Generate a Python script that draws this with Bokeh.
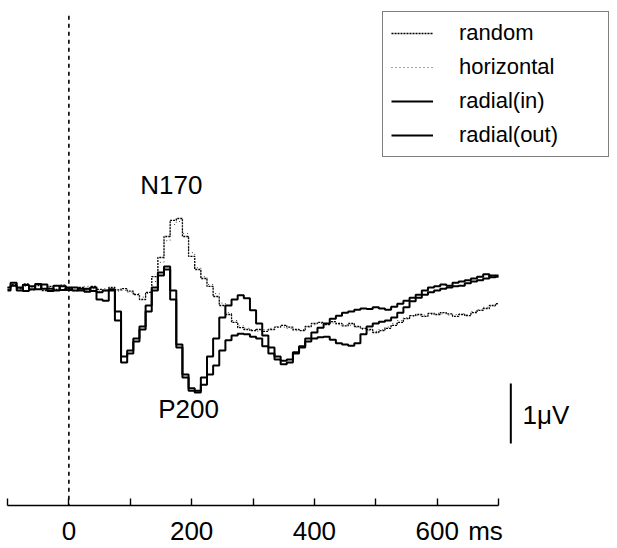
from bokeh.plotting import figure
from bokeh.models import Range1d, FixedTicker, Label, Legend, LegendItem, ColumnDataSource
from bokeh.embed import file_html
from bokeh.resources import INLINE

# ---- data (ms, µV; negative plotted upward) ----
time_ms = list(range(-100, 701, 10))

random_uv = [0.03, -0.05, 0.02, -0.06, 0.04, -0.03, 0.05, -0.02, 0.03, -0.04,
             0.02, 0.05, 0.0, 0.04, -0.02, 0.03, 0.05, 0.0, 0.04, 0.02,
             0.06, 0.12, 0.2, 0.08, -0.18, -0.5, -0.85, -1.12, -1.15, -0.85,
             -0.52, -0.3, -0.15, -0.02, 0.15, 0.3, 0.45, 0.58, 0.67, 0.7,
             0.72, 0.7, 0.73, 0.7, 0.66, 0.63, 0.66, 0.7, 0.72, 0.65,
             0.6, 0.58, 0.62, 0.57, 0.6, 0.64, 0.6, 0.65, 0.68, 0.7,
             0.75, 0.72, 0.68, 0.63, 0.58, 0.52, 0.47, 0.45, 0.48, 0.43,
             0.45, 0.42, 0.44, 0.48, 0.45, 0.47, 0.42, 0.38, 0.35, 0.3, 0.27]

horizontal_uv = [0.0, -0.03, 0.05, -0.02, 0.0, -0.06, 0.03, 0.0, -0.03, 0.02,
                 0.04, 0.0, 0.03, -0.02, 0.02, 0.06, 0.02, 0.04, 0.06, 0.05,
                 0.08, 0.1, 0.16, 0.1, -0.1, -0.42, -0.78, -1.05, -1.1, -0.9,
                 -0.58, -0.33, -0.18, -0.05, 0.1, 0.26, 0.42, 0.55, 0.64, 0.68,
                 0.7, 0.73, 0.7, 0.68, 0.65, 0.66, 0.68, 0.72, 0.7, 0.66,
                 0.62, 0.6, 0.6, 0.59, 0.62, 0.62, 0.63, 0.66, 0.7, 0.72,
                 0.73, 0.7, 0.66, 0.6, 0.55, 0.5, 0.48, 0.47, 0.46, 0.45,
                 0.43, 0.44, 0.46, 0.45, 0.44, 0.45, 0.4, 0.37, 0.33, 0.31, 0.28]

radial_in_uv = [0.0, -0.08, 0.05, -0.04, 0.03, -0.06, 0.02, 0.06, -0.03, 0.04,
                0.0, 0.05, 0.02, 0.07, 0.0, 0.2, 0.22, 0.05, 0.55, 1.25,
                1.05, 0.85, 0.65, 0.3, 0.0, -0.2, -0.3, 0.05, 0.95, 1.5,
                1.72, 1.75, 1.5, 1.15, 0.85, 0.5, 0.3, 0.2, 0.13, 0.18,
                0.38, 0.6, 0.8, 1.0, 1.15, 1.28, 1.25, 1.1, 1.0, 0.85,
                0.75, 0.67, 0.6, 0.52, 0.47, 0.42, 0.4, 0.37, 0.35, 0.36,
                0.33, 0.35, 0.37, 0.32, 0.27, 0.22, 0.17, 0.12, 0.05, 0.0,
                -0.02, -0.05, -0.03, -0.08, -0.1, -0.12, -0.15, -0.18, -0.22, -0.17, -0.2]

radial_out_uv = [0.05, -0.03, 0.0, 0.06, -0.02, 0.03, -0.05, 0.02, 0.05, -0.02,
                 0.04, 0.0, 0.05, 0.02, 0.06, 0.08, 0.05, 0.03, 0.4, 1.15,
                 1.1, 0.9, 0.7, 0.4, 0.05, -0.25, -0.35, 0.2, 1.0, 1.45,
                 1.68, 1.72, 1.62, 1.45, 1.3, 1.05, 0.88, 0.8, 0.77, 0.78,
                 0.82, 0.85, 0.98, 1.1, 1.2, 1.22, 1.2, 1.08, 0.98, 0.9,
                 0.85, 0.83, 0.82, 0.87, 0.93, 0.95, 0.97, 0.93, 0.78, 0.65,
                 0.6, 0.57, 0.55, 0.5, 0.42, 0.33, 0.23, 0.17, 0.12, 0.08,
                 0.05, 0.02, 0.0, -0.02, -0.03, -0.07, -0.1, -0.12, -0.15, -0.2, -0.18]

tick_values = [-100, 0, 100, 200, 300, 400, 500, 600, 700]
tick_labels = {-100: "", 0: "0", 100: "", 200: "200", 300: "", 400: "400",
               500: "", 600: "600", 700: "ms\u2003"}
stim_onset = 0
onset_top = -4.53
onset_bottom = 3.633
scale_bar_x = 720
scale_bar_top = 1.6
scale_bar_len = 1.0
scale_label = "1\u03bcV"
peak_labels = ["N170", "P200"]
peak_label_x = [167, 195]
peak_label_y = [-1.7, 2.02]

FONT = "Liberation Sans"

p = figure(width=617, height=548, min_border_left=0, min_border_right=0,
           min_border_top=0, min_border_bottom=43,
           x_range=Range1d(-111.4, 893.8), y_range=Range1d(3.633, -4.783),
           toolbar_location=None, output_backend="svg",
           y_axis_location=None, x_axis_location="below")
p.grid.visible = False
p.outline_line_color = None
p.background_fill_color = "white"
p.border_fill_color = "white"

ax = p.xaxis[0]
ax.ticker = FixedTicker(ticks=tick_values)
ax.bounds = (-100, 700)
ax.major_label_overrides = tick_labels
ax.major_tick_in = 7
ax.major_tick_out = 0
ax.minor_tick_line_color = None
ax.axis_line_width = 1.6
ax.major_tick_line_width = 1.4
ax.major_label_text_font = FONT
ax.major_label_text_font_size = "26px"
ax.major_label_text_color = "black"
ax.major_label_standoff = 10

p.segment(x0=[stim_onset], y0=[onset_top], x1=[stim_onset], y1=[onset_bottom],
          line_color="black", line_dash="4 4", line_width=1.6)

src = ColumnDataSource(dict(t=time_ms, rnd=random_uv, hor=horizontal_uv,
                            rin=radial_in_uv, rout=radial_out_uv))

r_rnd = p.step("t", "rnd", source=src, mode="center", line_color="black",
               line_width=1.3, line_dash="2 1")
r_hor = p.step("t", "hor", source=src, mode="center", line_color="#444444",
               line_width=1.0, line_dash="1 3")
r_in = p.step("t", "rin", source=src, mode="center", line_color="black", line_width=2)
r_out = p.step("t", "rout", source=src, mode="center", line_color="black", line_width=2)

legend = Legend(items=[LegendItem(label="random", renderers=[r_rnd]),
                       LegendItem(label="horizontal", renderers=[r_hor]),
                       LegendItem(label="radial(in)", renderers=[r_in]),
                       LegendItem(label="radial(out)", renderers=[r_out])],
                location=(382, 348))
legend.border_line_color = "black"
legend.border_line_width = 1.5
legend.background_fill_color = "white"
legend.background_fill_alpha = 1
legend.label_text_font = FONT
legend.label_text_font_size = "22px"
legend.label_text_color = "black"
legend.glyph_width = 42
legend.glyph_height = 26
legend.label_height = 26
legend.label_width = 141
legend.label_standoff = 26
legend.spacing = 8
legend.padding = 8
legend.margin = 0
p.add_layout(legend)

p.segment(x0=[scale_bar_x], y0=[scale_bar_top], x1=[scale_bar_x],
          y1=[scale_bar_top + scale_bar_len], line_color="black", line_width=2)
p.add_layout(Label(x=scale_bar_x + 19, y=scale_bar_top + 0.53, text=scale_label,
                   text_font=FONT, text_font_size="26px", text_baseline="middle",
                   text_align="left", text_color="black"))

for txt, lx, ly in zip(peak_labels, peak_label_x, peak_label_y):
    p.add_layout(Label(x=lx, y=ly, text=txt, text_font=FONT, text_font_size="26px",
                       text_align="center", text_baseline="middle", text_color="black"))

open("out.html", "w").write(file_html(p, INLINE))
